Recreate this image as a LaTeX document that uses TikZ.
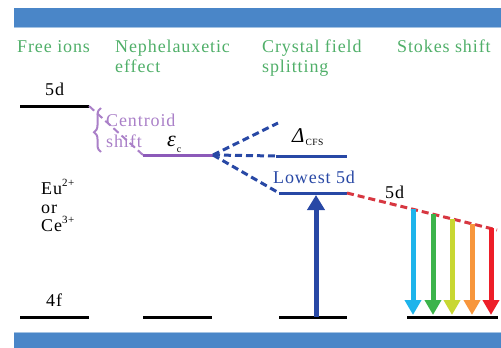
\documentclass[tikz,border=0pt]{standalone}
\usepackage{fontspec}
\setmainfont{Liberation Serif}[LetterSpace=5]
\usetikzlibrary{arrows.meta,decorations.pathreplacing}
\definecolor{barblue}{RGB}{74,134,200}
\definecolor{headgreen}{RGB}{80,175,105}
\definecolor{purpL}{RGB}{140,90,185}
\definecolor{purpT}{RGB}{170,128,200}
\definecolor{lvblue}{RGB}{40,72,165}
\definecolor{reddash}{RGB}{215,55,65}
\definecolor{cArr}{RGB}{30,180,235}
\definecolor{gArr}{RGB}{60,180,75}
\definecolor{yArr}{RGB}{200,215,50}
\definecolor{oArr}{RGB}{247,150,60}
\definecolor{rArr}{RGB}{237,30,40}
\tikzset{
  head/.style={text=headgreen, font=\fontsize{18}{20}\selectfont, anchor=base west, inner sep=0pt},
  lbl/.style={font=\fontsize{18}{20}\selectfont, anchor=base west, inner sep=0pt},
  lev/.style={line width=3pt},
  dsh/.style={dash pattern=on 7pt off 4pt},
  emit/.style={line width=5pt, -{Triangle[width=16pt,length=15pt]}},
}
\begin{document}
\begin{tikzpicture}[x=1pt,y=-1pt]
\useasboundingbox (0,0) rectangle (501,348);
% bars
\fill[barblue] (14,8) rectangle (501,27);
\draw[barblue!50!white, line width=0.8pt] (14,27.5) -- (501,27.5);
\fill[barblue] (14,333) rectangle (501,348);
\draw[barblue!50!white, line width=0.8pt] (14,332.6) -- (501,332.6);
% headings
\node[head] (h1) at (17,52) {Free ions};
\node[head] (h2a) at (115,52) {Nephelauxetic};
\node[head] (h2b) at (115,72) {effect};
\node[head] (h3a) at (262,52) {Crystal field};
\node[head] (h3b) at (262,72) {splitting};
\node[head] (h4) at (397,52) {Stokes shift};
% coordinates
\coordinate (f5a) at (20,106);  \coordinate (f5b) at (89,106);
\coordinate (n5a) at (143,155); \coordinate (n5b) at (213,155);
\coordinate (cu) at (278,123);
\coordinate (cm) at (276,156);  \coordinate (cmE) at (347,156);
\coordinate (cl) at (279,193);  \coordinate (clE) at (347,193);
\coordinate (sE) at (497,230);
\coordinate (f4a) at (20,317);  \coordinate (f4b) at (89,317);
\coordinate (n4a) at (143,317); \coordinate (n4b) at (212,317);
\coordinate (c4a) at (279,317); \coordinate (c4b) at (347,317);
\coordinate (s4a) at (407,317); \coordinate (s4b) at (498,317);
% levels
\draw[lev] (f5a) -- (f5b);
\draw[purpT, line width=2pt, dsh] (f5b) -- (n5a);
\draw[lev, purpL] (n5a) -- (n5b);
\draw[lev, lvblue, dsh] (n5b) -- (cu);
\draw[lev, lvblue, dsh] (n5b) -- (cm);
\draw[lev, lvblue] (cm) -- (cmE);
\draw[lev, lvblue, dsh] (n5b) -- (cl);
\draw[lev, lvblue] (cl) -- (clE);
\draw[lev, reddash, dsh] (clE) -- (sE);
\draw[lev] (f4a) -- (f4b);
\draw[lev] (n4a) -- (n4b);
\draw[lev] (c4a) -- (c4b);
\draw[lev] (s4a) -- (s4b);
% absorption arrow
\coordinate (abs0) at (316,317); \coordinate (abs1) at (316,195);
\draw[emit, lvblue, -{Triangle[width=17pt,length=15pt]}] (abs0) -- (abs1);
% emission arrows
\coordinate (e1a) at (413,209.2); \coordinate (e1b) at (413,315);
\coordinate (e2a) at (433,214.1); \coordinate (e2b) at (433,315);
\coordinate (e3a) at (452,218.7); \coordinate (e3b) at (452,315);
\coordinate (e4a) at (472,223.6); \coordinate (e4b) at (472,315);
\coordinate (e5a) at (491,228.3); \coordinate (e5b) at (491,315);
\draw[emit, cArr] (e1a) -- (e1b);
\draw[emit, gArr] (e2a) -- (e2b);
\draw[emit, yArr] (e3a) -- (e3b);
\draw[emit, oArr] (e4a) -- (e4b);
\draw[emit, rArr] (e5a) -- (e5b);
% brace
\draw[purpT, line width=2pt, decorate, decoration={brace, amplitude=7pt, aspect=0.45}] (101,152) -- (101,108);
% labels
\node[lbl] (l5d) at (45,95) {5d};
\node[lbl] (l4f) at (46,306) {4f};
\node[lbl] (eu) at (41,194) {Eu\raisebox{8pt}{\fontsize{11}{11}\selectfont 2+}};
\node[lbl] (or) at (41,213) {or};
\node[lbl] (ce) at (41,231) {Ce\raisebox{8pt}{\fontsize{11}{11}\selectfont 3+}};
\node[lbl, text=purpT] (cen1) at (106,126) {Centroid};
\node[lbl, text=purpT] (cen2) at (106,147) {shift};
\node[lbl] (eps) at (167,146) {{\fontsize{22}{22}\selectfont\textit{ε}}\raisebox{-6pt}{\fontsize{10}{10}\selectfont c}};
\node[lbl] (dcfs) at (292,142) {{\fontsize{21}{21}\selectfont\textit{Δ}}\raisebox{-3pt}{\fontsize{9.5}{10}\selectfont CFS}};
\node[lbl, text=lvblue] (low) at (273,183) {Lowest 5d};
\node[lbl] (s5d) at (385,198) {5d};
\end{tikzpicture}
\end{document}
